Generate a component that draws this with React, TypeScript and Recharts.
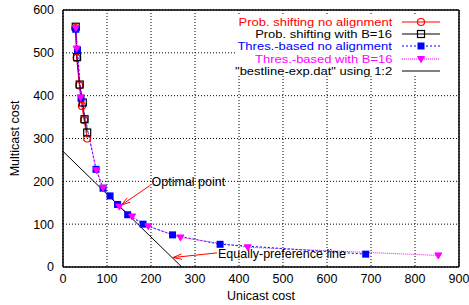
import {
  ComposedChart,
  Line,
  XAxis,
  YAxis,
  CartesianGrid,
  ReferenceLine,
  Label,
} from "recharts";

const probNoAlignX = [28, 31, 37, 43, 48, 55];
const probNoAlignY = [558, 488, 424, 376, 343, 300];
const probB16X = [29, 32, 38, 45, 49, 55];
const probB16Y = [561, 490, 426, 384, 345, 314];
const thresNoAlignX = [29, 33, 41, 75, 91, 107, 124, 147, 182, 249, 357, 688];
const thresNoAlignY = [555, 507, 394, 228, 184, 166, 146, 122, 100, 75, 53, 30];
const thresB16X = [29, 31, 40, 76, 91, 128, 157, 194, 267, 420, 853];
const thresB16Y = [558, 510, 396, 226, 185, 141, 118, 95, 69, 46, 27];
const bestlineX = [0, 270];
const bestlineY = [270, 0];

const xTicks = [0, 100, 200, 300, 400, 500, 600, 700, 800, 900];
const yTicks = [0, 100, 200, 300, 400, 500, 600];

const seriesNames = [
  "Prob. shifting no alignment",
  "Prob. shifting with B=16",
  "Thres.-based no alignment",
  "Thres.-based with B=16",
  '"bestline-exp.dat" using 1:2',
];

const FONT = "'Liberation Sans', Arial, Helvetica, sans-serif";

const zip = (xs: number[], ys: number[]) => xs.map((x, i) => ({ x, y: ys[i] }));

const probNoAlign = zip(probNoAlignX, probNoAlignY);
const probB16 = zip(probB16X, probB16Y);
const thresNoAlign = zip(thresNoAlignX, thresNoAlignY);
const thresB16 = zip(thresB16X, thresB16Y);
const bestline = zip(bestlineX, bestlineY);

type MarkerKind = "circle" | "square" | "fsquare" | "tri" | "none";

const marker = (kind: MarkerKind, cx: number, cy: number, color: string, key?: string) => {
  if (kind === "circle")
    return <circle key={key} cx={cx} cy={cy} r={3.5} fill="none" stroke={color} strokeWidth={1.2} />;
  if (kind === "square")
    return (
      <rect key={key} x={cx - 3.5} y={cy - 3.5} width={7} height={7} fill="none" stroke={color} strokeWidth={1.2} />
    );
  if (kind === "fsquare")
    return <rect key={key} x={cx - 3.5} y={cy - 3.5} width={7} height={7} fill={color} />;
  if (kind === "tri")
    return (
      <path
        key={key}
        d={`M${cx - 3.5},${cy - 2.5} L${cx + 3.5},${cy - 2.5} L${cx},${cy + 3.5} Z`}
        fill={color}
        stroke={color}
      />
    );
  return <g key={key} />;
};

const series = [
  { name: seriesNames[0], data: probNoAlign, color: "#ff0000", dash: undefined, kind: "circle" as MarkerKind },
  { name: seriesNames[1], data: probB16, color: "#000000", dash: undefined, kind: "square" as MarkerKind },
  { name: seriesNames[2], data: thresNoAlign, color: "#0000ff", dash: "2 2", kind: "fsquare" as MarkerKind },
  { name: seriesNames[3], data: thresB16, color: "#ff00ff", dash: "1 1", kind: "tri" as MarkerKind },
  { name: seriesNames[4], data: bestline, color: "#000000", dash: undefined, kind: "none" as MarkerKind },
];

const arrow = (text: string, dy: number) => (p: any) => {
  const { x1, y1, x2, y2 } = p;
  const ang = Math.atan2(y2 - y1, x2 - x1);
  const len = 9;
  const spread = 0.3;
  const ax = x2 - len * Math.cos(ang - spread);
  const ay = y2 - len * Math.sin(ang - spread);
  const bx = x2 - len * Math.cos(ang + spread);
  const by = y2 - len * Math.sin(ang + spread);
  return (
    <g>
      <line x1={x1} y1={y1} x2={x2} y2={y2} stroke="#ff0000" strokeWidth={1} />
      <polyline points={`${ax},${ay} ${x2},${y2} ${bx},${by}`} fill="none" stroke="#ff0000" strokeWidth={1} />
      <text x={x1 + 1} y={y1 + dy} fontSize={12.5} fontFamily={FONT} fill="#000" dominantBaseline="central">
        {text}
      </text>
    </g>
  );
};

const ROW = 12.4;

export default function App() {
  return (
    <div style={{ position: "absolute", left: 0, top: 0, width: 469, height: 305, background: "#fff", fontFamily: FONT }}>
      <ComposedChart width={469} height={305} margin={{ top: 10, right: 10, left: 0, bottom: 0 }}>
        <CartesianGrid stroke="#000" strokeDasharray="1 2" strokeWidth={1} />
        <XAxis
          type="number"
          dataKey="x"
          domain={[0, 900]}
          ticks={xTicks}
          interval={0}
          height={38}
          tickSize={0}
          tickMargin={7}
          axisLine={{ stroke: "#000", strokeWidth: 1.5 }}
          tick={{ fill: "#000", fontSize: 12.5, fontFamily: FONT }}
        >
          <Label
            content={({ viewBox }: any) => (
              <text
                x={viewBox.x + viewBox.width / 2}
                y={viewBox.y + 29}
                textAnchor="middle"
                dominantBaseline="central"
                fontSize={12.5}
                fontFamily={FONT}
                fill="#000"
              >
                Unicast cost
              </text>
            )}
          />
        </XAxis>
        <YAxis
          type="number"
          domain={[0, 600]}
          ticks={yTicks}
          interval={0}
          width={63}
          tickSize={0}
          tickMargin={9}
          axisLine={{ stroke: "#000", strokeWidth: 1.5 }}
          tick={{ fill: "#000", fontSize: 12.5, fontFamily: FONT }}
        >
          <Label
            content={({ viewBox }: any) => {
              const cx = 15;
              const cy = viewBox.y + viewBox.height / 2;
              return (
                <text
                  x={cx}
                  y={cy}
                  transform={`rotate(-90, ${cx}, ${cy})`}
                  textAnchor="middle"
                  dominantBaseline="central"
                  fontSize={12.5}
                  fontFamily={FONT}
                  fill="#000"
                >
                  Multicast cost
                </text>
              );
            }}
          />
        </YAxis>
        <ReferenceLine y={600} stroke="#000" strokeWidth={1.5} />
        <ReferenceLine x={900} stroke="#000" strokeWidth={1.5} />
        {series.map((s, si) => (
          <Line
            key={s.name}
            data={s.data}
            dataKey="y"
            name={s.name}
            type="linear"
            stroke={s.color}
            strokeWidth={1}
            strokeDasharray={s.dash}
            isAnimationActive={false}
            dot={(p: any) => marker(s.kind, p.cx, p.cy, s.color, `m-${si}-${p.index}`)}
            activeDot={false}
          />
        ))}
        <ReferenceLine
          segment={[
            { x: 199, y: 191 },
            { x: 133, y: 145 },
          ]}
          ifOverflow="visible"
          shape={arrow("Optimal point", -3)}
        />
        <ReferenceLine
          segment={[
            { x: 350, y: 33 },
            { x: 250, y: 22 },
          ]}
          ifOverflow="visible"
          shape={arrow("Equally-preference line", 1)}
        />
      </ComposedChart>
      <div
        style={{
          position: "absolute",
          left: 236,
          top: 15.5,
          width: 222,
          height: 58,
          background: "#fff",
        }}
      >
        {series.map((s) => (
          <div
            key={s.name}
            style={{ display: "flex", alignItems: "center", justifyContent: "flex-end", height: ROW }}
          >
            <span
              style={{
                fontSize: 11,
                color: s.kind === "none" ? "#000" : s.color,
                lineHeight: `${ROW}px`,
                whiteSpace: "nowrap",
                display: "inline-block",
                transform: "scaleX(1.18)",
                transformOrigin: "right center",
              }}
            >
              {s.name}
            </span>
            <svg width={46} height={12} style={{ marginLeft: 8, marginRight: 12 }}>
              <line x1={2} y1={6} x2={40} y2={6} stroke={s.color} strokeWidth={1} strokeDasharray={s.dash} />
              {marker(s.kind, 21, 6, s.color)}
            </svg>
          </div>
        ))}
      </div>
    </div>
  );
}
